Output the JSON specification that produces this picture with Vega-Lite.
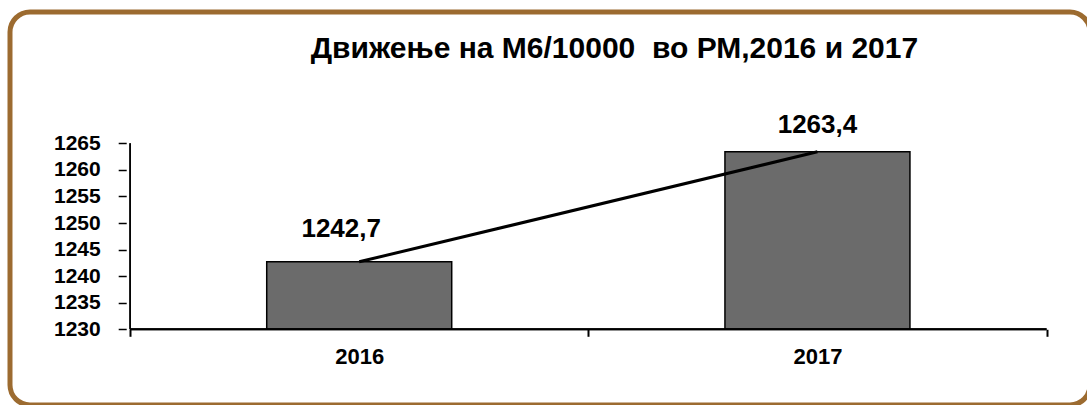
{
  "$schema": "https://vega.github.io/schema/vega-lite/v6.json",
  "autosize": {"type": "none"},
  "padding": {"left": 10, "top": 12, "right": 0, "bottom": 0},
  "width": 1080,
  "height": 393,
  "background": "white",
  "config": {
    "view": {"stroke": "#9C6B30", "strokeWidth": 5, "cornerRadius": 20, "fill": "white"},
    "locale": {"number": {"decimal": ",", "thousands": "", "grouping": [3], "currency": ["", ""]}},
    "font": "Liberation Sans, sans-serif"
  },
  "title": {
    "text": "Дијаграм",
    "font": "Liberation Sans, sans-serif",
    "fontSize": 32,
    "fontWeight": "normal",
    "color": "#222222",
    "anchor": "end",
    "frame": "group",
    "dx": -10,
    "offset": 7,
    "baseline": "alphabetic"
  },
  "data": {"values": [
    {"year": 2016, "value": 1242.7, "heading": "Движење на М6/10000\u00a0 во РМ,2016 и 2017"},
    {"year": 2017, "value": 1263.4, "heading": "Движење на М6/10000\u00a0 во РМ,2016 и 2017"}
  ]},
  "encoding": {
    "x": {
      "field": "year", "type": "quantitative",
      "scale": {"domain": [2015.2488, 2017.5839], "nice": false, "zero": false},
      "axis": {
        "title": null, "orient": "bottom", "offset": -75.7,
        "values": [2015.5, 2016, 2016.5, 2017, 2017.5],
        "labelExpr": "(datum.value == 2016 || datum.value == 2017) ? ('' + datum.value) : ''",
        "tickOpacity": {"condition": {"test": "datum.value == 2016 || datum.value == 2017", "value": 0}, "value": 1},
        "tickSize": 7, "tickWidth": 2, "tickColor": "black",
        "domain": false, "grid": false,
        "labelFontSize": 22, "labelFontWeight": "bold", "labelColor": "black",
        "labelPadding": 10, "labelFlush": false, "labelOverlap": false
      }
    },
    "y": {
      "field": "value", "type": "quantitative",
      "scale": {"domain": [1215.755, 1289.707], "nice": false, "zero": false},
      "axis": {
        "title": null, "orient": "left", "offset": -116.2,
        "values": [1230, 1235, 1240, 1245, 1250, 1255, 1260, 1265],
        "tickSize": 8, "tickWidth": 1.5, "tickColor": "black",
        "domain": false, "grid": false,
        "labelFontSize": 21, "labelFontWeight": "bold", "labelColor": "black",
        "labelPadding": 18, "labelOverlap": false
      }
    }
  },
  "layer": [
    {
      "mark": {"type": "bar", "size": 185, "fill": "#6b6b6b", "stroke": "black", "strokeWidth": 1.5},
      "encoding": {"y2": {"datum": 1230}}
    },
    {
      "mark": {"type": "rule", "stroke": "black", "strokeWidth": 1.5},
      "encoding": {"x": {"datum": 2015.5}, "y": {"datum": 1230}, "y2": {"datum": 1265}}
    },
    {
      "mark": {"type": "rule", "stroke": "black", "strokeWidth": 2},
      "encoding": {"x": {"datum": 2015.5}, "x2": {"datum": 2017.5}, "y": {"datum": 1230}}
    },
    {
      "mark": {"type": "line", "stroke": "black", "strokeWidth": 3}
    },
    {
      "transform": [{"filter": "datum.year == 2016"}],
      "mark": {"type": "text", "fontSize": 26, "fontWeight": "bold", "color": "black", "baseline": "alphabetic", "dx": -18, "dy": -25},
      "encoding": {"text": {"field": "value", "type": "quantitative", "format": ".1f"}}
    },
    {
      "transform": [{"filter": "datum.year == 2017"}],
      "mark": {"type": "text", "fontSize": 26, "fontWeight": "bold", "color": "black", "baseline": "alphabetic", "dy": -19},
      "encoding": {"text": {"field": "value", "type": "quantitative", "format": ".1f"}}
    },
    {
      "transform": [{"filter": "datum.year == 2017"}],
      "mark": {"type": "text", "fontSize": 30, "fontWeight": "bold", "color": "black", "align": "center", "baseline": "alphabetic"},
      "encoding": {"x": {"datum": 2016.5569}, "y": {"datum": 1281.051}, "text": {"field": "heading", "type": "nominal"}}
    }
  ]
}
